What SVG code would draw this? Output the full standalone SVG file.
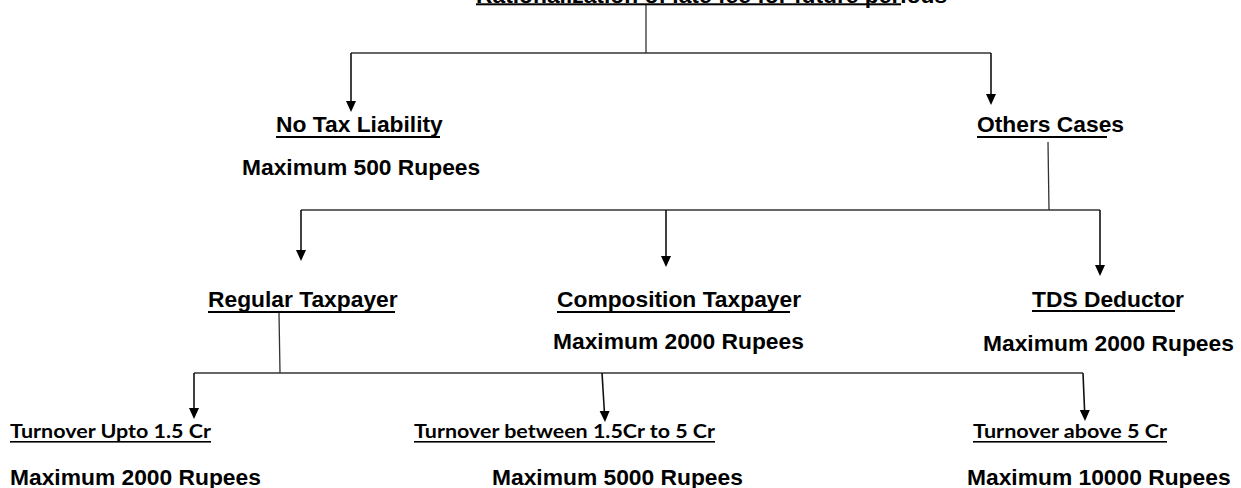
<svg xmlns="http://www.w3.org/2000/svg" width="1241" height="488" viewBox="0 0 1241 488">
<style>
.h{font-family:"Liberation Sans",Arial,sans-serif;font-weight:bold;font-size:22.8px;fill:#000}
.c{font-family:Lato,"Open Sans",sans-serif;font-weight:bold;font-size:18px;fill:#000}
.u{fill:#000}
.ln{stroke:#333;stroke-width:1.3;fill:none}
.ar{stroke:#111;stroke-width:1.6;fill:none}
</style>
<defs>
<marker id="ah" markerUnits="userSpaceOnUse" markerWidth="12" markerHeight="12" viewBox="0 0 12 12" refX="6" refY="11" orient="auto-start-reverse">
<path d="M1,0 L11,0 L6,11 Z" fill="#000" transform="rotate(-90 6 6) rotate(90 6 6)"/>
</marker>
</defs>
<rect width="1241" height="488" fill="#fff"/>
<g id="connectors">
<line class="ln" x1="646" y1="5" x2="646" y2="53"/>
<line class="ln" x1="351" y1="53" x2="991" y2="53"/>
<path class="ar" d="M351,53 L351,102"/>
<path d="M346,101 L356,101 L351,112 Z" fill="#000"/>
<path class="ar" d="M991,53 L991,95"/>
<path d="M986,94 L996,94 L991,105 Z" fill="#000"/>
<line class="ln" x1="1048" y1="142" x2="1049" y2="210"/>
<line class="ln" x1="301" y1="210" x2="1100" y2="210"/>
<path class="ar" d="M301,210 L301,251"/>
<path d="M296,250 L306,250 L301,261 Z" fill="#000"/>
<path class="ar" d="M666,210 L666,257"/>
<path d="M661,256 L671,256 L666,267 Z" fill="#000"/>
<path class="ar" d="M1100,210 L1100,266"/>
<path d="M1095,265 L1105,265 L1100,276 Z" fill="#000"/>
<line class="ln" x1="279" y1="313" x2="280" y2="373"/>
<line class="ln" x1="194" y1="373" x2="1083" y2="373"/>
<path class="ar" d="M194,373 L194,409"/>
<path d="M189,408 L199,408 L194,419 Z" fill="#000"/>
<path class="ar" d="M602,373 L604.4,412"/>
<path d="M599.6,411 L609.6,411 L605,422 Z" fill="#000"/>
<path class="ar" d="M1083,373 L1084.6,411"/>
<path d="M1079.8,410 L1089.8,410 L1085,421 Z" fill="#000"/>
</g>
<g id="title">
<text class="h" x="476" y="2.5">Rationalization of late fee for future periods</text>
<rect class="u" x="476" y="3.3" width="425" height="2"/>
</g>
<g id="no-tax-liability">
<text class="h" x="276" y="132">No Tax Liability</text>
<rect class="u" x="276" y="136" width="164" height="2"/>
<text class="h" x="242" y="175">Maximum 500 Rupees</text>
</g>
<g id="others-cases">
<text class="h" x="977" y="132">Others Cases</text>
<rect class="u" x="977" y="136" width="130" height="2"/>
</g>
<g id="regular-taxpayer">
<text class="h" x="208" y="307">Regular Taxpayer</text>
<rect class="u" x="208" y="311" width="187" height="2"/>
</g>
<g id="composition-taxpayer">
<text class="h" x="557" y="307">Composition Taxpayer</text>
<rect class="u" x="557" y="311" width="233" height="2"/>
<text class="h" x="553" y="349">Maximum 2000 Rupees</text>
</g>
<g id="tds-deductor">
<text class="h" x="1032" y="307">TDS Deductor</text>
<rect class="u" x="1032" y="310" width="143" height="2"/>
<text class="h" x="983" y="351">Maximum 2000 Rupees</text>
</g>
<g id="turnover-upto">
<text class="c" x="10" y="438" textLength="201" lengthAdjust="spacingAndGlyphs">Turnover Upto 1.5 Cr</text>
<rect class="u" x="10" y="441" width="201" height="1.6"/>
<text class="h" x="10" y="485">Maximum 2000 Rupees</text>
</g>
<g id="turnover-between">
<text class="c" x="414" y="438" textLength="301" lengthAdjust="spacingAndGlyphs">Turnover between 1.5Cr to 5 Cr</text>
<rect class="u" x="414" y="441" width="301" height="1.6"/>
<text class="h" x="492" y="485">Maximum 5000 Rupees</text>
</g>
<g id="turnover-above">
<text class="c" x="973" y="438" textLength="194" lengthAdjust="spacingAndGlyphs">Turnover above 5 Cr</text>
<rect class="u" x="973" y="441" width="194" height="1.6"/>
<text class="h" x="967" y="485">Maximum 10000 Rupees</text>
</g>
</svg>
